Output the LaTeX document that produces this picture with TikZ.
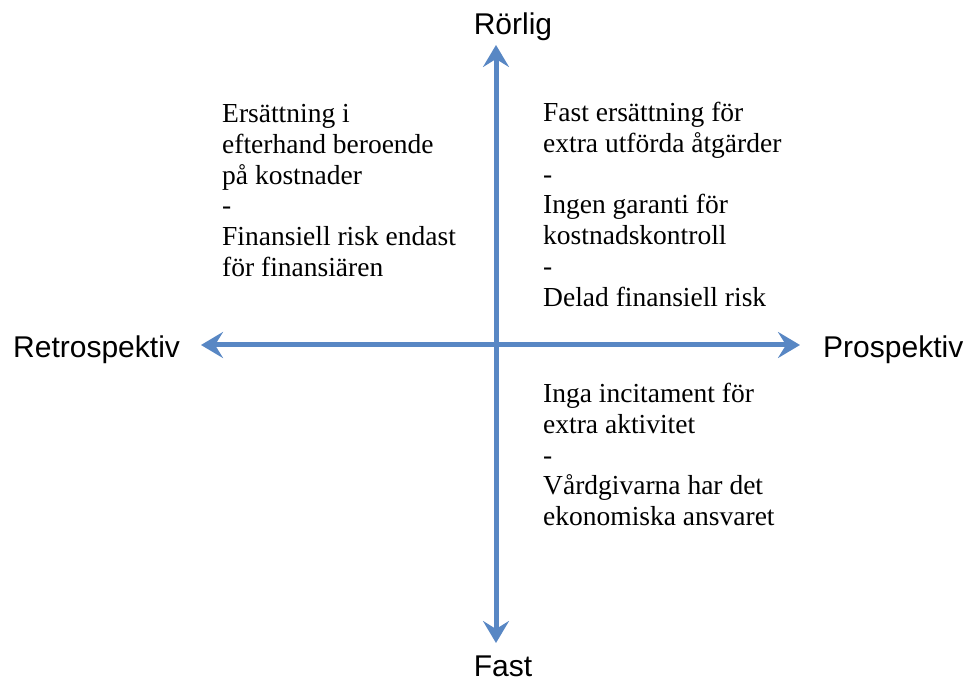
\documentclass[tikz,border=0pt]{standalone}
\usepackage{fontspec}
\setmainfont{Liberation Serif}
\newfontfamily\axisfont{Liberation Sans}
\usetikzlibrary{arrows.meta}
\definecolor{axisblue}{RGB}{88,135,196}
\tikzset{
  axisline/.style={draw=axisblue, line width=5pt,
    {Stealth[length=22pt,width=26pt,inset=8pt]}-{Stealth[length=22pt,width=26pt,inset=8pt]}},
  axislabel/.style={font=\axisfont\fontsize{30}{34}\selectfont, inner sep=0pt},
  quadtext/.style={font=\fontsize{27.5}{30.8}\selectfont, align=left, anchor=north west, inner sep=0pt}
}
\begin{document}
\begin{tikzpicture}[x=1pt,y=-1pt]
\fill[white] (0,0) rectangle (966,684);
\useasboundingbox (0,0) rectangle (966,684);
\coordinate (L) at (201,345);
\coordinate (R) at (800,345);
\coordinate (T) at (496,45);
\coordinate (B) at (496,643);
\draw[axisline] (L) -- (R);
\draw[axisline] (T) -- (B);
\node[axislabel, anchor=base] (top) at (513,35) {Rörlig};
\node[axislabel, anchor=base] (bottom) at (503,676) {Fast};
\node[axislabel, anchor=base west] (left) at (13,358) {Retrospektiv};
\node[axislabel, anchor=base west] (right) at (823,357) {Prospektiv};
\node[quadtext] (q1) at (222,104) {Ersättning i\\efterhand beroende\\på kostnader\\-\\Finansiell risk endast\\för finansiären};
\node[quadtext] (q2) at (543,102) {Fast ersättning för\\extra utförda åtgärder\\-\\Ingen garanti för\\kostnadskontroll\\-\\Delad finansiell risk};
\node[quadtext] (q3) at (543,383) {Inga incitament för\\extra aktivitet\\-\\Vårdgivarna har det\\ekonomiska ansvaret};
\end{tikzpicture}
\end{document}
